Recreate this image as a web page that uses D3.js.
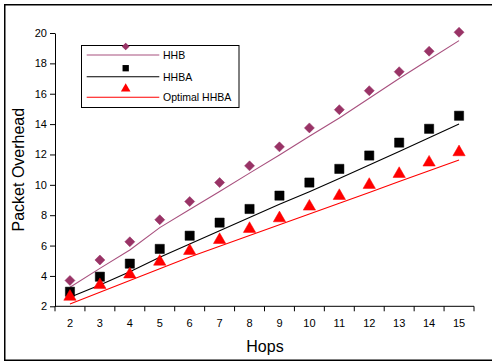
<!DOCTYPE html>
<html>
<head>
<meta charset="utf-8">
<script src="https://cdn.jsdelivr.net/npm/d3@7"></script>
<style>
  html, body { margin: 0; padding: 0; background: #fff; }
  svg { display: block; font-family: Arial, "Liberation Sans", sans-serif; }
</style>
</head>
<body>
<svg id="chart" width="492" height="362"></svg>
<script>
const hops = [2, 3, 4, 5, 6, 7, 8, 9, 10, 11, 12, 13, 14, 15];
const yTicks = [2, 4, 6, 8, 10, 12, 14, 16, 18, 20];

// marker (measured) values
const hhbPoints = [3.7, 5.05, 6.25, 7.7, 8.9, 10.15, 11.25, 12.5, 13.75, 14.95, 16.2, 17.45, 18.8, 20.05];
const hhbaPoints = [2.96, 3.95, 4.81, 5.78, 6.65, 7.51, 8.41, 9.29, 10.15, 11.05, 11.93, 12.78, 13.69, 14.55];
const optPoints = [2.63, 3.4, 4.1, 4.94, 5.65, 6.37, 7.1, 7.8, 8.57, 9.27, 10.0, 10.72, 11.47, 12.15];

// line (analytical) values
const hhbLine = [3.25, 4.5, 5.71, 7.18, 8.37, 9.56, 10.77, 11.97, 13.2, 14.4, 15.7, 17.0, 18.25, 19.5];
const hhbaLine = [2.59, 3.4, 4.28, 5.23, 6.1, 6.98, 7.85, 8.72, 9.55, 10.42, 11.3, 12.2, 13.1, 14.0];
const optLine = [2.15, 2.92, 3.7, 4.47, 5.24, 5.95, 6.66, 7.37, 8.08, 8.79, 9.5, 10.22, 10.93, 11.64];

const seriesNames = ["HHB", "HHBA", "Optimal HHBA"];
const colors = { "HHB": "#993366", "HHBA": "#000000", "Optimal HHBA": "#FF0000" };
const lineColors = { "HHB": "#A8507E", "HHBA": "#000000", "Optimal HHBA": "#FF0000" };

(function () {
const svg = d3.select("#chart");

// outer frame
svg.append("rect")
  .attr("x", 4.75).attr("y", 4.75)
  .attr("width", 520).attr("height", 355.5)
  .attr("fill", "none").attr("stroke", "#000").attr("stroke-width", 1.5);

const pLeft = 55, pRight = 474, pTop = 33, pBottom = 306.3;
const x = d3.scaleBand().domain(hops).range([pLeft, pRight]).padding(0);
const cx = h => x(h) + x.bandwidth() / 2;
const y = d3.scaleLinear().domain([2, 20]).range([pBottom, pTop]);

// Y axis
const yAxis = svg.append("g")
  .attr("transform", `translate(${pLeft},0)`)
  .call(d3.axisLeft(y).tickValues(yTicks).tickSize(5).tickSizeOuter(0).tickPadding(3));
yAxis.select(".domain").attr("stroke", "#000");
yAxis.selectAll("text").attr("font-size", 11).attr("fill", "#000")
  .attr("font-family", "Arial, 'Liberation Sans', sans-serif");

// X axis (category, ticks between categories)
const xAxis = svg.append("g")
  .attr("transform", `translate(0,${pBottom})`)
  .call(d3.axisBottom(x).tickSize(0).tickPadding(13));
xAxis.select(".domain").remove();
xAxis.selectAll("text").attr("font-size", 11).attr("fill", "#000")
  .attr("font-family", "Arial, 'Liberation Sans', sans-serif");
xAxis.append("line")
  .attr("x1", pLeft).attr("x2", pRight).attr("y1", 0).attr("y2", 0)
  .attr("stroke", "#000");
const bounds = hops.map(h => x(h)).concat([x(hops[hops.length - 1]) + x.bandwidth()]);
xAxis.selectAll("line.bt").data(bounds).enter().append("line")
  .attr("class", "bt")
  .attr("x1", d => d).attr("x2", d => d)
  .attr("y1", 0).attr("y2", 5)
  .attr("stroke", "#000");

// axis titles
svg.append("text")
  .attr("x", 265).attr("y", 352)
  .attr("text-anchor", "middle").attr("font-size", 16).attr("fill", "#000")
  .text("Hops");
svg.append("text")
  .attr("transform", `translate(24,${(pTop + pBottom) / 2}) rotate(-90)`)
  .attr("text-anchor", "middle").attr("font-size", 16).attr("fill", "#000")
  .text("Packet Overhead");

// lines
const lineGen = d3.line().x((d, i) => cx(hops[i])).y(d => y(d));
const lineData = { "HHB": hhbLine, "HHBA": hhbaLine, "Optimal HHBA": optLine };
seriesNames.forEach(name => {
  svg.append("path")
    .datum(lineData[name])
    .attr("d", lineGen)
    .attr("fill", "none")
    .attr("stroke", lineColors[name])
    .attr("stroke-width", 1.1);
});

// markers
const symbols = { "HHB": d3.symbolSquare, "HHBA": d3.symbolSquare, "Optimal HHBA": d3.symbolTriangle };
const sizes = { "HHB": 50, "HHBA": 85, "Optimal HHBA": 66 };
const pointData = { "HHB": hhbPoints, "HHBA": hhbaPoints, "Optimal HHBA": optPoints };
seriesNames.forEach(name => {
  const sym = d3.symbol().type(symbols[name]).size(sizes[name]);
  svg.append("g").selectAll("path")
    .data(pointData[name])
    .enter().append("path")
    .attr("transform", (d, i) => {
      const rot = name === "HHB" ? " rotate(45)" : "";
      return `translate(${cx(hops[i])},${y(d)})${rot}`;
    })
    .attr("d", sym)
    .attr("fill", colors[name])
    .attr("stroke", colors[name])
    .attr("stroke-width", 0.5);
});

// legend
const lg = svg.append("g");
lg.append("rect")
  .attr("x", 81.5).attr("y", 45.5).attr("width", 157.5).attr("height", 62)
  .attr("fill", "#fff").attr("stroke", "#000").attr("stroke-width", 1);
const legendRows = [55, 76.7, 97.3];
seriesNames.forEach((name, i) => {
  const ly = legendRows[i];
  lg.append("line")
    .attr("x1", 86.7).attr("x2", 159.3).attr("y1", ly).attr("y2", ly)
    .attr("stroke", lineColors[name]).attr("stroke-width", 1.1);
  const sym = d3.symbol().type(symbols[name]).size(name === "HHB" ? 30 : 40);
  const rot = name === "HHB" ? " rotate(45)" : "";
  lg.append("path")
    .attr("transform", `translate(125.7,${ly - 8.5})${rot}`)
    .attr("d", sym)
    .attr("fill", colors[name]);
  lg.append("text")
    .attr("x", 163).attr("y", ly + 4)
    .attr("font-size", 10.5).attr("fill", "#000")
    .text(name);
});
})();
</script>
</body>
</html>
